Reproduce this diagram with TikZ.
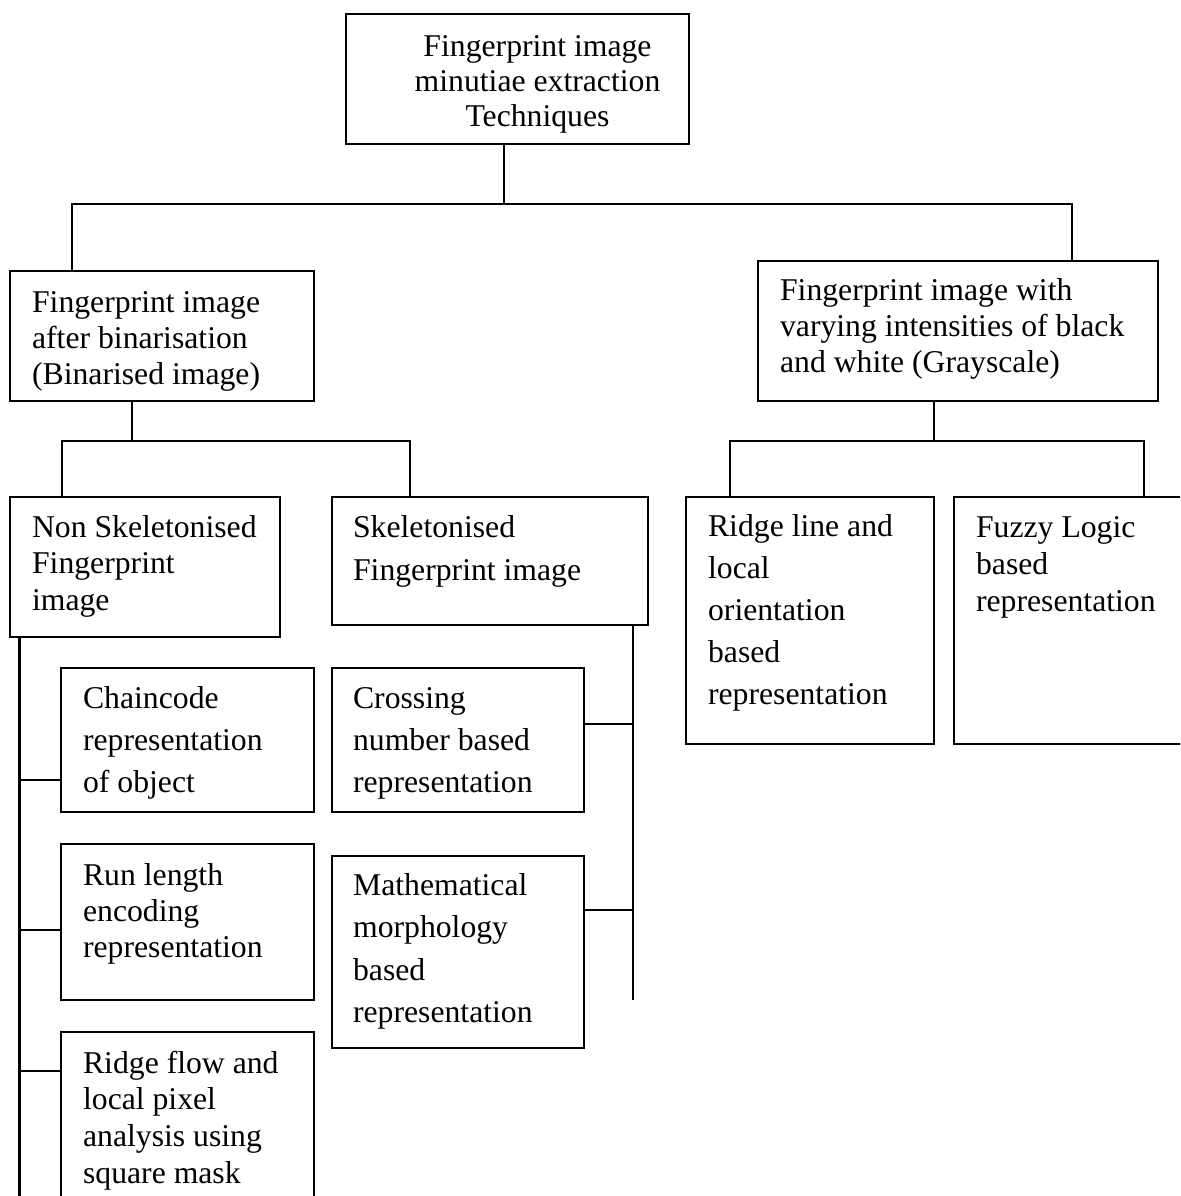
\documentclass[tikz,border=0pt]{standalone}
\usepackage{fontspec}
\setmainfont{Liberation Serif}
\usetikzlibrary{fit}
\begin{document}
\begin{tikzpicture}[x=0.5pt,y=-0.5pt,line width=1.1pt,
  box/.style={draw,rectangle,inner sep=0pt,line width=1.1pt},
  txt/.style={inner sep=0pt,text width=230pt,align=flush left,anchor=base west,
    font=\fontsize{15.85pt}{#1}\selectfont},
  ctxt/.style={inner sep=0pt,text width=230pt,align=flush center,anchor=base,
    font=\fontsize{15.85pt}{#1}\selectfont}]
\useasboundingbox (0,0) rectangle (1180,1196);
\fill[white] (0,0) rectangle (1180,1196);
\clip (0,0) rectangle (1180,1196);

% boxes
\node[box,fit={(346,14) (689,144)}] (top) {};
\node[box,fit={(10,271) (314,401)}] (bin) {};
\node[box,fit={(758,261) (1158,401)}] (gray) {};
\node[box,fit={(10,497) (280,637)}] (nsk) {};
\node[box,fit={(332,497) (648,625)}] (skl) {};
\node[box,fit={(686,497) (934,744)}] (ridge) {};
\node[box,fit={(954,497) (1210,744)}] (fuzzy) {};
\node[box,fit={(61,668) (314,812)}] (chain) {};
\node[box,fit={(61,844) (314,1000)}] (run) {};
\node[box,fit={(61,1032) (314,1230)}] (flow) {};
\node[box,fit={(332,668) (584,812)}] (cross) {};
\node[box,fit={(332,856) (584,1048)}] (math) {};

% texts
\node[ctxt=17.6pt] (topT) at (537.5,56) {Fingerprint image\\minutiae extraction\\Techniques};
\node[txt=18pt] (binT) at (31,312) {Fingerprint image\\after binarisation\\(Binarised image)};
\node[txt=18.2pt] (grayT) at (779,300) {Fingerprint image with\\varying intensities of black\\and white (Grayscale)};
\node[txt=18.3pt] (nskT) at (31,537) {Non Skeletonised\\Fingerprint\\image};
\node[txt=21.5pt] (sklT) at (352,537) {Skeletonised\\Fingerprint image};
\node[txt=21pt] (ridgeT) at (707,536) {Ridge line and\\local\\orientation\\based\\representation};
\node[txt=18.6pt] (fuzzyT) at (975,537) {Fuzzy Logic\\based\\representation};
\node[txt=21.2pt] (chainT) at (82,708) {Chaincode\\representation\\of object};
\node[txt=18.2pt] (runT) at (82,885) {Run length\\encoding\\representation};
\node[txt=18.4pt] (flowT) at (82,1073) {Ridge flow and\\local pixel\\analysis using\\square mask};
\node[txt=21.2pt] (crossT) at (352,708) {Crossing\\number based\\representation};
\node[txt=21.3pt] (mathT) at (352,895) {Mathematical\\morphology\\based\\representation};

% junction points of the tree
\coordinate (j0) at (504,204);
\coordinate (jL) at (72,204);
\coordinate (jR) at (1072,204);
\coordinate (jB) at (132,441);
\coordinate (jBl) at (62,441);
\coordinate (jBr) at (410,441);
\coordinate (jG) at (934,441);
\coordinate (jGl) at (730,441);
\coordinate (jGr) at (1144,441);
\coordinate (tL) at (19.5,1196);
\coordinate (tR) at (633,1000);
\coordinate (hChain) at (0,780);
\coordinate (hRun) at (0,930);
\coordinate (hFlow) at (0,1071);
\coordinate (hCross) at (0,724);
\coordinate (hMath) at (0,910);

% first level
\draw (j0 |- top.south) -- (j0);
\draw (jL |- bin.north) -- (jL) -- (jR) -- (jR |- gray.north);

% binarised branch
\draw (jB |- bin.south) -- (jB);
\draw (jBl |- nsk.north) -- (jBl) -- (jBr) -- (jBr |- skl.north);

% grayscale branch
\draw (jG |- gray.south) -- (jG);
\draw (jGl |- ridge.north) -- (jGl) -- (jGr) -- (jGr |- fuzzy.north);

% non skeletonised trunk
\draw (tL |- nsk.south) -- (tL);
\draw (tL |- hChain) -- (chain.west |- hChain);
\draw (tL |- hRun) -- (run.west |- hRun);
\draw (tL |- hFlow) -- (flow.west |- hFlow);

% skeletonised trunk
\draw (tR |- skl.south) -- (tR);
\draw (cross.east |- hCross) -- (tR |- hCross);
\draw (math.east |- hMath) -- (tR |- hMath);
\end{tikzpicture}
\end{document}
